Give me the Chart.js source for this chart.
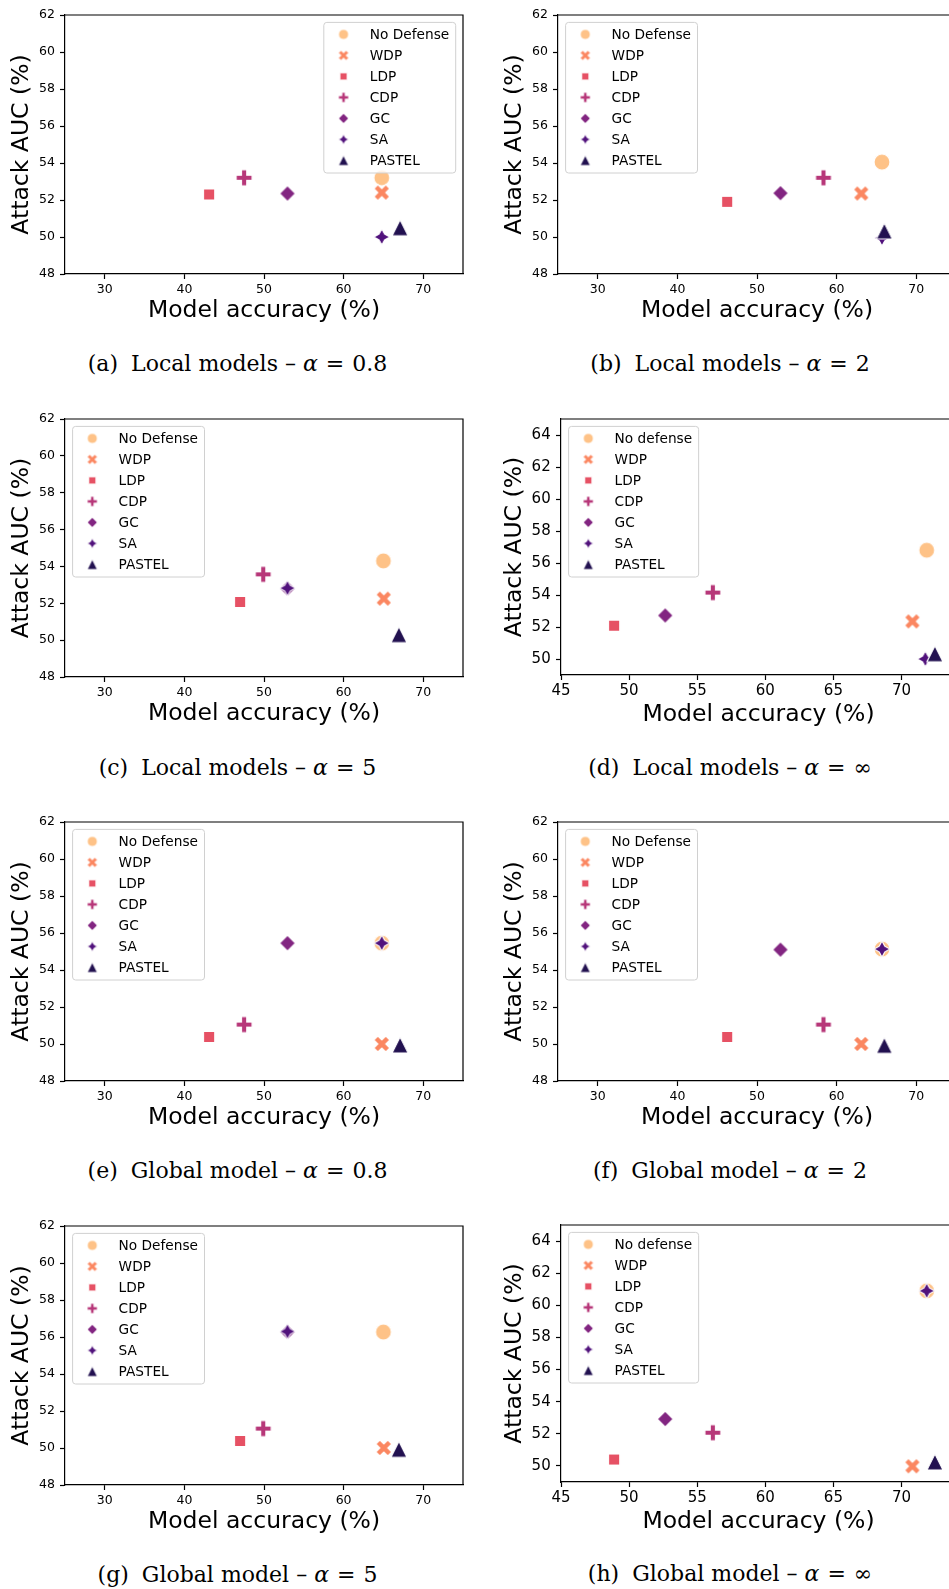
<!DOCTYPE html>
<html>
<head>
<meta charset="utf-8">
<script src="https://cdn.jsdelivr.net/npm/chart.js@4.4.1/dist/chart.umd.min.js"></script>
<style>
  html, body { margin: 0; padding: 0; background: #fff; }
  body { width: 949px; height: 1589px; overflow: hidden; position: relative; }
  canvas { position: absolute; }
  .cap {
    position: absolute; width: 480px; text-align: center; white-space: nowrap;
    font-family: 'DejaVu Serif', serif; font-size: 22px; line-height: 22px; color: #000;
  }
  .cap .gap { margin-left: 13px; }
  .cap .eq { margin: 0 1px; }
</style>
</head>
<body>
<script>
// Defense methods, in drawing order (later ones end up on top)
const defenses = ['No Defense', 'WDP', 'LDP', 'CDP', 'GC', 'SA', 'PASTEL'];
const defensesInf = ['No defense', 'WDP', 'LDP', 'CDP', 'GC', 'SA', 'PASTEL'];
const colors = ['#fec287', '#fb8761', '#e65164', '#b73779', '#822581', '#51127c', '#221150'];
const shapes = ['circle', 'x', 'square', 'plus', 'diamond', 'star4', 'triangle'];

// Tick labels
const accTicks = [30, 40, 50, 60, 70];
const accTicksInf = [45, 50, 55, 60, 65, 70];
const aucTicks = [48, 50, 52, 54, 56, 58, 60, 62];
const aucTicksInf = [50, 52, 54, 56, 58, 60, 62, 64];

// (a) Local models, alpha = 0.8
const accLocal08 = [64.8, 64.8, 43.1, 47.5, 52.95, 64.8, 67.1];
const aucLocal08 = [53.2, 52.4, 52.3, 53.2, 52.35, 50.0, 50.5];
// (b) Local models, alpha = 2
const accLocal2 = [65.7, 63.1, 46.25, 58.35, 52.95, 65.7, 66.0];
const aucLocal2 = [54.05, 52.35, 51.9, 53.2, 52.37, 49.95, 50.33];
// (c) Local models, alpha = 5
const accLocal5 = [65.0, 65.05, 47.0, 49.9, 52.95, 52.95, 66.95];
const aucLocal5 = [54.3, 52.25, 52.07, 53.57, 52.8, 52.82, 50.3];
// (d) Local models, alpha = inf
const accLocalInf = [71.85, 70.8, 48.9, 56.15, 52.65, 71.75, 72.45];
const aucLocalInf = [56.8, 52.35, 52.08, 54.15, 52.72, 50.0, 50.33];
// (e) Global model, alpha = 0.8
const accGlobal08 = [64.8, 64.8, 43.1, 47.5, 52.95, 64.8, 67.1];
const aucGlobal08 = [55.45, 50.0, 50.38, 51.05, 55.45, 55.45, 49.95];
// (f) Global model, alpha = 2
const accGlobal2 = [65.7, 63.1, 46.25, 58.35, 52.95, 65.7, 66.0];
const aucGlobal2 = [55.13, 50.0, 50.38, 51.05, 55.1, 55.13, 49.93];
// (g) Global model, alpha = 5
const accGlobal5 = [65.0, 65.05, 47.0, 49.9, 52.95, 52.95, 66.95];
const aucGlobal5 = [56.27, 50.0, 50.38, 51.05, 56.27, 56.3, 49.93];
// (h) Global model, alpha = inf
const accGlobalInf = [71.85, 70.8, 48.9, 56.15, 52.65, 71.85, 72.45];
const aucGlobalInf = [60.9, 49.98, 50.4, 52.07, 52.92, 60.9, 50.25];

// Panel layout: plot area edges in page pixels
const small = { tickSize: 12.5, xTickPad: 3, yTickPad: 5, xTitlePad: 4.9, yTitlePad: 7.6 };
const large = { tickSize: 15, xTickPad: 2.3, yTickPad: 5.3, xTitlePad: 2.5, yTitlePad: 4.3 };
const panels = [
  { acc: accLocal08, auc: aucLocal08, names: defenses, L: 65, T: 15.3, B: 274, W: 398.3, corner: 'tr', inf: false, st: small,
    cap: ['(a)', 'Local models', '0.8'] },
  { acc: accLocal2, auc: aucLocal2, names: defenses, L: 557.7, T: 15.3, B: 274, W: 398.3, corner: 'tl', inf: false, st: small,
    cap: ['(b)', 'Local models', '2'] },
  { acc: accLocal5, auc: aucLocal5, names: defenses, L: 65, T: 419, B: 677.3, W: 398.3, corner: 'tl', inf: false, st: small,
    cap: ['(c)', 'Local models', '5'] },
  { acc: accLocalInf, auc: aucLocalInf, names: defensesInf, L: 561.3, T: 419, B: 675.3, W: 394.7, corner: 'tl', inf: true, st: large,
    cap: ['(d)', 'Local models', '∞'] },
  { acc: accGlobal08, auc: aucGlobal08, names: defenses, L: 65, T: 822.3, B: 1081, W: 398.3, corner: 'tl', inf: false, st: small,
    cap: ['(e)', 'Global model', '0.8'] },
  { acc: accGlobal2, auc: aucGlobal2, names: defenses, L: 557.7, T: 822.3, B: 1081, W: 398.3, corner: 'tl', inf: false, st: small,
    cap: ['(f)', 'Global model', '2'] },
  { acc: accGlobal5, auc: aucGlobal5, names: defenses, L: 65, T: 1225.7, B: 1484.7, W: 398.3, corner: 'tl', inf: false, st: small,
    cap: ['(g)', 'Global model', '5'] },
  { acc: accGlobalInf, auc: aucGlobalInf, names: defensesInf, L: 561.3, T: 1225.3, B: 1482.3, W: 394.7, corner: 'tl', inf: true, st: large,
    cap: ['(h)', 'Global model', '∞'] }
];

Chart.defaults.font.family = '"DejaVu Sans", sans-serif';

// Marker sprites (seaborn style: filled shape with white edge)
function makeMarker(shape, color, size, edge) {
  const dim = Math.ceil(size + 6);
  const c = document.createElement('canvas');
  c.width = dim; c.height = dim;
  const ctx = c.getContext('2d');
  const h = size / 2;
  ctx.translate(dim / 2, dim / 2);
  ctx.beginPath();
  if (shape === 'circle') {
    ctx.arc(0, 0, h, 0, Math.PI * 2);
  } else if (shape === 'square') {
    const s = h * Math.SQRT1_2;
    ctx.rect(-s, -s, 2 * s, 2 * s);
  } else if (shape === 'diamond') {
    ctx.moveTo(0, -h); ctx.lineTo(h, 0); ctx.lineTo(0, h); ctx.lineTo(-h, 0); ctx.closePath();
  } else if (shape === 'triangle') {
    ctx.moveTo(0, -h); ctx.lineTo(h, h); ctx.lineTo(-h, h); ctx.closePath();
  } else if (shape === 'star4') {
    for (let i = 0; i < 8; i++) {
      const r = i % 2 ? h * 0.5 : h;
      const a = -Math.PI / 2 + i * Math.PI / 4;
      if (i === 0) ctx.moveTo(r * Math.cos(a), r * Math.sin(a));
      else ctx.lineTo(r * Math.cos(a), r * Math.sin(a));
    }
    ctx.closePath();
  } else if (shape === 'plus') {
    const pts = [[-1, -3], [1, -3], [1, -1], [3, -1], [3, 1], [1, 1], [1, 3], [-1, 3], [-1, 1], [-3, 1], [-3, -1], [-1, -1]];
    pts.forEach(([px, py], i) => {
      const x = px / 6 * size, y = py / 6 * size;
      if (i === 0) ctx.moveTo(x, y); else ctx.lineTo(x, y);
    });
    ctx.closePath();
  } else if (shape === 'x') {
    const pts = [[-1, -2], [0, -1], [1, -2], [2, -1], [1, 0], [2, 1], [1, 2], [0, 1], [-1, 2], [-2, 1], [-1, 0], [-2, -1]];
    pts.forEach(([px, py], i) => {
      const x = px / 4 * size, y = py / 4 * size;
      if (i === 0) ctx.moveTo(x, y); else ctx.lineTo(x, y);
    });
    ctx.closePath();
  }
  ctx.fillStyle = color;
  ctx.fill();
  ctx.lineWidth = edge;
  ctx.strokeStyle = '#fff';
  ctx.stroke();
  return c;
}

const plotMarkers = shapes.map((s, i) => makeMarker(s, colors[i], 16, 1.2));
const legendMarkers = shapes.map((s, i) => makeMarker(s, colors[i], 10, 0.8));

// Top and right spines
const framePlugin = {
  id: 'frame',
  afterDatasetsDraw(chart) {
    const { ctx, chartArea: a } = chart;
    ctx.save();
    ctx.strokeStyle = '#000';
    ctx.lineWidth = 1.2;
    ctx.beginPath();
    ctx.moveTo(a.left, a.top);
    ctx.lineTo(a.right, a.top);
    ctx.lineTo(a.right, a.bottom);
    ctx.stroke();
    ctx.restore();
  }
};

// Matplotlib-like legend box inside the axes
function legendPlugin(names, corner) {
  return {
    id: 'boxLegend',
    afterDraw(chart) {
      const { ctx, chartArea: a } = chart;
      ctx.save();
      ctx.font = '13.7px "DejaVu Sans"';
      const textW = Math.max(...names.map(n => ctx.measureText(n).width));
      const w = 46 + textW + 6.5, h = 150.6;
      const x0 = corner === 'tr' ? a.right - 7.3 - w : a.left + 7.6;
      const y0 = a.top + 7.4;
      ctx.beginPath();
      ctx.roundRect(x0, y0, w, h, 3);
      ctx.fillStyle = 'rgba(255,255,255,0.8)';
      ctx.fill();
      ctx.strokeStyle = '#d0d0d0';
      ctx.lineWidth = 1;
      ctx.stroke();
      names.forEach((n, i) => {
        const cy = y0 + 12 + i * 21;
        const m = legendMarkers[i];
        ctx.drawImage(m, x0 + 19.7 - m.width / 2, cy - m.height / 2);
        ctx.fillStyle = '#000';
        ctx.textBaseline = 'alphabetic';
        ctx.fillText(n, x0 + 46, cy + 5);
      });
      ctx.restore();
    }
  };
}

panels.forEach(p => {
  const H = p.B - p.T;
  const canvas = document.createElement('canvas');
  canvas.width = Math.round(65 + p.W + 12);
  canvas.height = Math.round(15 + H + 56);
  canvas.style.left = (p.L - 65) + 'px';
  canvas.style.top = (p.T - 15) + 'px';
  canvas.style.width = canvas.width + 'px';
  canvas.style.height = canvas.height + 'px';
  document.body.appendChild(canvas);

  const xTicks = p.inf ? accTicksInf : accTicks;
  const yTicks = p.inf ? aucTicksInf : aucTicks;
  const st = p.st;
  const axisGrid = { display: true, drawOnChartArea: false, drawTicks: true, tickLength: 5, tickWidth: 1.2, tickColor: '#000' };
  const axisBorder = { display: true, color: '#000', width: 1.2 };

  new Chart(canvas, {
    type: 'scatter',
    data: {
      datasets: p.names.map((name, i) => ({
        label: name,
        data: [{ x: p.acc[i], y: p.auc[i] }],
        pointStyle: plotMarkers[i],
        pointRadius: 7,
        pointHoverRadius: 7,
        order: p.names.length - i
      }))
    },
    options: {
      responsive: false,
      animation: false,
      devicePixelRatio: 1,
      events: [],
      layout: { padding: { left: 0, top: 15, right: 12, bottom: 0 }, autoPadding: false },
      plugins: { legend: { display: false }, tooltip: { enabled: false } },
      scales: {
        x: {
          type: 'linear',
          min: p.inf ? 45 : 25,
          max: p.inf ? 74 : 75,
          afterBuildTicks: s => { s.ticks = xTicks.map(v => ({ value: v })); },
          afterFit: s => { s.height = 56; },
          ticks: { font: { size: st.tickSize }, color: '#000', padding: st.xTickPad, maxRotation: 0 },
          grid: axisGrid,
          border: axisBorder,
          title: { display: true, text: 'Model accuracy (%)', font: { size: 23.5 }, color: '#000',
                   padding: { top: 0, bottom: st.xTitlePad } }
        },
        y: {
          type: 'linear',
          min: p.inf ? 49 : 48,
          max: p.inf ? 65 : 62,
          afterBuildTicks: s => { s.ticks = yTicks.map(v => ({ value: v })); },
          afterFit: s => { s.width = 65; },
          ticks: { font: { size: st.tickSize }, color: '#000', padding: st.yTickPad },
          grid: axisGrid,
          border: axisBorder,
          title: { display: true, text: 'Attack AUC (%)', font: { size: 23.5 }, color: '#000',
                   padding: { top: st.yTitlePad, bottom: 0 } }
        }
      }
    },
    plugins: [framePlugin, legendPlugin(p.names, p.corner)]
  });

  // Sub-figure caption
  const cap = document.createElement('div');
  cap.className = 'cap';
  const centerX = p.L < 300 ? 237.5 : 730;
  cap.style.left = (centerX - 240) + 'px';
  cap.style.top = (p.T + 356.7 - 18.6) + 'px';
  cap.innerHTML = p.cap[0] + '<span class="gap"></span>' + p.cap[1] +
    ' – <i>α</i><span class="eq"> = </span>' + p.cap[2];
  document.body.appendChild(cap);
});
</script>
</body>
</html>
